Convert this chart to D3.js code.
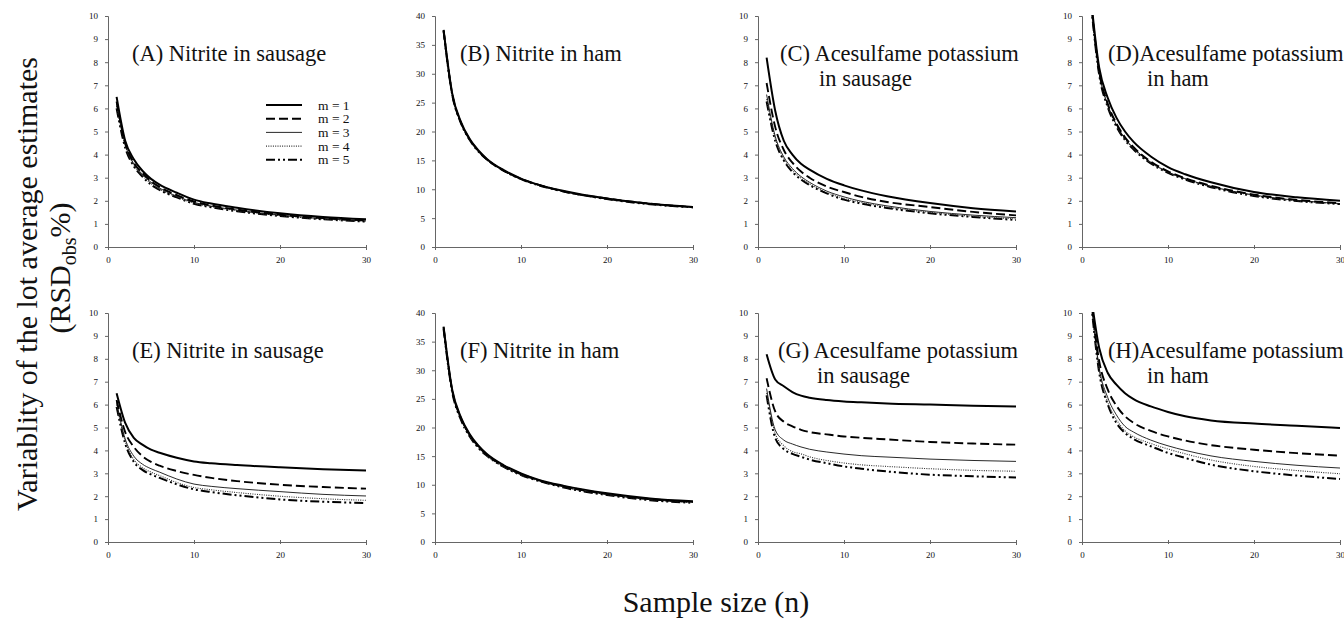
<!DOCTYPE html>
<html><head><meta charset="utf-8">
<script src="https://cdn.jsdelivr.net/npm/d3@7"></script>
<style>
body{margin:0;background:#fff;}
svg text{font-family:"Liberation Serif","Times New Roman",serif;fill:#111;}
</style></head>
<body><svg id="c" width="1344" height="619"></svg>
<script>
const sampleSizes = [1,2,3,4,5,6,8,10,12,15,20,25,30];
const seriesNames = ["m = 1","m = 2","m = 3","m = 4","m = 5"];
const xTicks = [0,10,20,30];
const yTicks10 = [0,1,2,3,4,5,6,7,8,9,10];
const yTicks40 = [0,5,10,15,20,25,30,35,40];

const panelA = [
  [6.5,4.6,3.8,3.3,2.95,2.7,2.35,2.05,1.88,1.7,1.46,1.3,1.2],
  [6.3,4.5,3.65,3.2,2.85,2.6,2.25,1.97,1.8,1.62,1.4,1.25,1.15],
  [6.2,4.45,3.6,3.15,2.8,2.55,2.2,1.93,1.77,1.6,1.38,1.23,1.13],
  [6.1,4.4,3.55,3.1,2.75,2.5,2.17,1.9,1.75,1.57,1.36,1.21,1.12],
  [6.0,4.3,3.5,3.05,2.7,2.47,2.15,1.87,1.72,1.55,1.34,1.2,1.1]
];
const panelB = [
  [37.6,26.6,21.7,18.8,16.8,15.3,13.3,11.85,10.8,9.7,8.4,7.5,6.94],
  [37.5,26.5,21.6,18.7,16.7,15.2,13.2,11.8,10.8,9.6,8.4,7.5,6.9],
  [37.5,26.5,21.6,18.7,16.7,15.2,13.2,11.8,10.8,9.6,8.35,7.5,6.9],
  [37.4,26.4,21.5,18.7,16.7,15.2,13.2,11.8,10.7,9.6,8.3,7.45,6.88],
  [37.4,26.4,21.5,18.6,16.6,15.2,13.2,11.75,10.7,9.6,8.3,7.4,6.86]
];
const panelC = [
  [8.2,5.9,4.6,4.0,3.6,3.35,2.95,2.67,2.45,2.2,1.9,1.68,1.54],
  [7.1,5.2,4.2,3.65,3.27,3.0,2.62,2.38,2.17,1.95,1.73,1.52,1.37],
  [6.6,4.8,3.9,3.4,3.05,2.8,2.42,2.17,1.98,1.78,1.54,1.38,1.27],
  [6.4,4.7,3.82,3.32,2.98,2.73,2.36,2.1,1.93,1.73,1.5,1.33,1.22],
  [6.3,4.6,3.75,3.25,2.92,2.68,2.32,2.05,1.88,1.69,1.46,1.3,1.17]
];
const panelD = [
  [10.9,7.76,6.45,5.6,5.0,4.55,3.92,3.46,3.15,2.8,2.38,2.15,2.0],
  [10.8,7.6,6.2,5.35,4.75,4.32,3.7,3.28,2.98,2.65,2.27,2.04,1.9],
  [10.8,7.55,6.15,5.3,4.7,4.28,3.67,3.25,2.96,2.63,2.25,2.02,1.88],
  [10.7,7.5,6.1,5.26,4.66,4.25,3.64,3.23,2.94,2.61,2.23,2.0,1.87],
  [10.7,7.45,6.05,5.22,4.63,4.22,3.62,3.21,2.92,2.59,2.21,1.99,1.86]
];
const panelE = [
  [6.5,5.2,4.55,4.25,4.03,3.9,3.68,3.52,3.44,3.36,3.26,3.18,3.12],
  [6.2,4.8,4.15,3.75,3.5,3.33,3.1,2.93,2.8,2.66,2.5,2.4,2.33],
  [6.1,4.5,3.75,3.4,3.2,3.05,2.75,2.53,2.43,2.33,2.2,2.08,2.01],
  [6.0,4.4,3.6,3.25,3.05,2.9,2.6,2.38,2.28,2.16,2.0,1.89,1.82],
  [5.9,4.3,3.5,3.15,2.95,2.8,2.52,2.3,2.18,2.04,1.86,1.76,1.7]
];
const panelF = [
  [37.6,26.6,21.8,18.9,16.9,15.4,13.4,12.0,10.9,9.8,8.5,7.6,7.1],
  [37.5,26.5,21.7,18.8,16.8,15.3,13.3,11.9,10.8,9.7,8.4,7.5,7.0],
  [37.4,26.4,21.6,18.7,16.7,15.2,13.2,11.8,10.8,9.6,8.3,7.4,6.95],
  [37.3,26.3,21.5,18.6,16.6,15.1,13.1,11.7,10.7,9.6,8.3,7.4,6.9],
  [37.2,26.2,21.4,18.5,16.5,15.1,13.1,11.7,10.7,9.5,8.2,7.3,6.85]
];
const panelG = [
  [8.2,7.1,6.8,6.55,6.39,6.3,6.2,6.14,6.1,6.05,6.0,5.95,5.92],
  [7.15,5.7,5.25,5.05,4.9,4.8,4.7,4.61,4.55,4.48,4.37,4.3,4.25],
  [6.7,4.9,4.45,4.28,4.15,4.05,3.93,3.84,3.77,3.71,3.62,3.56,3.52],
  [6.5,4.75,4.2,3.95,3.85,3.72,3.56,3.45,3.37,3.3,3.2,3.13,3.09],
  [6.4,4.55,4.05,3.85,3.72,3.6,3.44,3.3,3.2,3.08,2.94,2.87,2.82]
];
const panelH = [
  [10.9,8.47,7.38,6.87,6.5,6.24,5.92,5.68,5.49,5.31,5.17,5.08,4.98],
  [10.8,7.9,6.65,5.95,5.49,5.2,4.85,4.61,4.43,4.23,4.03,3.88,3.77],
  [10.8,7.6,6.3,5.55,5.05,4.8,4.45,4.2,4.0,3.76,3.52,3.35,3.23],
  [10.7,7.5,6.1,5.35,4.85,4.6,4.3,4.06,3.85,3.58,3.3,3.12,2.98],
  [10.7,7.4,6.0,5.2,4.76,4.5,4.18,3.89,3.67,3.38,3.09,2.9,2.75]
];

const panels = [
  {data:panelA, title:["(A) Nitrite in sausage"], yMax:10, yt:yTicks10, col:0,row:0, legend:true, tx:24},
  {data:panelB, title:["(B) Nitrite in ham"], yMax:40, yt:yTicks40, col:1,row:0, tx:25},
  {data:panelC, title:["(C) Acesulfame potassium","in sausage"], yMax:10, yt:yTicks10, col:2,row:0, tx:22},
  {data:panelD, title:["(D)Acesulfame potassium","in ham"], yMax:10, yt:yTicks10, col:3,row:0, tx:26},
  {data:panelE, title:["(E) Nitrite in sausage"], yMax:10, yt:yTicks10, col:0,row:1, tx:24},
  {data:panelF, title:["(F) Nitrite in ham"], yMax:40, yt:yTicks40, col:1,row:1, tx:25},
  {data:panelG, title:["(G) Acesulfame potassium","in sausage"], yMax:10, yt:yTicks10, col:2,row:1, tx:20},
  {data:panelH, title:["(H)Acesulfame potassium","in ham"], yMax:10, yt:yTicks10, col:3,row:1, tx:26}
];

const styles = [
  {w:2.0, dash:null, c:"#000"},
  {w:1.9, dash:"9,4", c:"#000"},
  {w:0.9, dash:null, c:"#111"},
  {w:1.1, dash:"1,1.3", c:"#333"},
  {w:2.0, dash:"9,3,2,3,2,3", c:"#000"}
];

const svg = d3.select("#c");
const colX = [108,435,758,1082];
const rowY = [16,313];
const rowH = [231,229];
const pw = 258;

panels.forEach((p,i)=>{
  const ph = rowH[p.row];
  const g = svg.append("g").attr("transform",`translate(${colX[p.col]},${rowY[p.row]})`);
  const x = d3.scaleLinear().domain([0,30]).range([0,pw]);
  const y = d3.scaleLinear().domain([0,p.yMax]).range([ph,0]);
  const clipId = "clip"+i;
  g.append("clipPath").attr("id",clipId).append("rect").attr("x",0).attr("y",-1).attr("width",pw+4).attr("height",ph+1);

  const xa = g.append("g").attr("transform",`translate(0,${ph})`)
    .call(d3.axisBottom(x).tickValues(xTicks).tickSize(3).tickPadding(7).tickFormat(d3.format("d")));
  const ya = g.append("g")
    .call(d3.axisLeft(y).tickValues(p.yt).tickSize(3).tickPadding(7));
  [xa,ya].forEach(a=>{
    a.attr("font-family","'Liberation Serif',serif");
    a.select(".domain").attr("stroke","#666").attr("stroke-width",1);
    a.selectAll(".tick line").attr("stroke","#666");
    a.selectAll("text").attr("font-size",9).attr("fill","#111");
  });
  xa.selectAll(".tick line").attr("y1",-2).attr("y2",2);

  const line = d3.line().x((d,j)=>x(sampleSizes[j])).y(d=>y(d)).curve(d3.curveMonotoneX);
  const lg = g.append("g").attr("clip-path",`url(#${clipId})`);
  p.data.slice().reverse().forEach((s,ri)=>{
    const k = p.data.length-1-ri;
    lg.append("path").attr("d",line(s)).attr("fill","none").attr("stroke",styles[k].c)
      .attr("stroke-width",styles[k].w).attr("stroke-dasharray",styles[k].dash);
  });

  g.append("text").attr("x",p.tx).attr("y",45).attr("font-size",22.5).text(p.title[0]);
  if(p.title[1]){
    g.append("text").attr("x",p.tx+39).attr("y",70).attr("font-size",22.5).text(p.title[1]);
  }

  if(p.legend){
    const leg = g.append("g").attr("transform",`translate(158,89)`);
    seriesNames.forEach((nm,k)=>{
      leg.append("line").attr("x1",0).attr("x2",36).attr("y1",k*13.7).attr("y2",k*13.7)
        .attr("stroke",styles[k].c).attr("stroke-width",styles[k].w).attr("stroke-dasharray",styles[k].dash);
      leg.append("text").attr("x",52).attr("y",k*13.7+4.5).attr("font-size",13.5).text(nm);
    });
  }
});

// axis titles
svg.append("text").attr("transform","translate(37,284) rotate(-90)").attr("text-anchor","middle").attr("font-size",30)
  .text("Variablity of the lot average estimates");
const yt2 = svg.append("text").attr("transform","translate(70,268) rotate(-90)").attr("text-anchor","middle").attr("font-size",30);
yt2.append("tspan").text("(RSD");
yt2.append("tspan").attr("font-size",20).attr("dy",6).text("obs");
yt2.append("tspan").attr("dy",-6).text("%)");

svg.append("text").attr("x",716).attr("y",612).attr("text-anchor","middle").attr("font-size",30).text("Sample size (n)");
</script></body></html>
